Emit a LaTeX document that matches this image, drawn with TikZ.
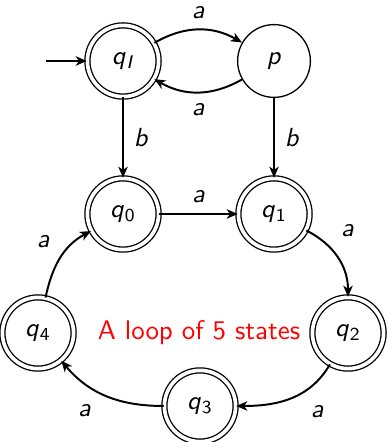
\documentclass[tikz,border=0pt]{standalone}
\usetikzlibrary{arrows.meta}
\renewcommand{\familydefault}{\sfdefault}
\newcommand{\stq}[1]{\textit{q}\kern0.3pt\textsubscript{#1}}
\begin{document}
\begin{tikzpicture}[x=0.382pt,y=0.382pt,
  stnode/.style={circle,draw,line width=0.5pt,minimum size=27.8pt,inner sep=0pt,font=\normalsize},
  acc/.style={stnode,double,double distance=1.4pt,minimum size=27.2pt},
  tr/.style={-{Stealth[length=4.2pt,width=3.6pt,inset=1.2pt]},line width=0.75pt},
  lab/.style={auto,font=\itshape,inner sep=3.8pt}]
\useasboundingbox (0,0) rectangle (387,442);
\node[acc] (qI) at (123,381) {\stq{\textit{I}}};
\node[stnode] (p) at (274,381) {\textit{p}};
\node[acc] (q0) at (123,228) {\stq{0}};
\node[acc] (q1) at (274,228) {\stq{1}};
\node[acc] (q2) at (348,109) {\stq{2}};
\node[acc] (q3) at (200,36) {\stq{3}};
\node[acc] (q4) at (38,109) {\stq{4}};
\node[text=red,font=\fontsize{10.3}{12}\selectfont] (txt) at (199,109) {A loop of 5 states};
\coordinate (start) at (46,381);
\draw[tr] (start) -- (qI);
\draw[tr] (qI) to[bend left=30] node[lab] {a} (p);
\draw[tr] (p) to[bend left=30] node[lab] {a} (qI);
\draw[tr] (qI) -- node[lab] {b} (q0);
\draw[tr] (p) -- node[lab] {b} (q1);
\draw[tr] (q0) -- node[lab] {a} (q1);
\draw[tr] (q1) to[out=-27,in=90] node[lab,pos=0.35] {a} (q2);
\draw[tr] (q2) to[out=-120,in=0] node[lab,pos=0.4] {a} (q3);
\draw[tr] (q3) to[out=180,in=-50] node[lab,pos=0.55] {a} (q4);
\draw[tr] (q4) to[out=78,in=-152] node[lab,pos=0.5] {a} (q0);
\end{tikzpicture}
\end{document}
